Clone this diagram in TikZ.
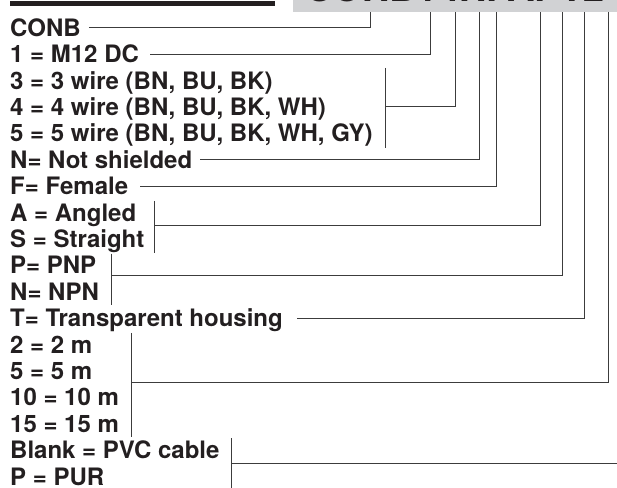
\documentclass[tikz,border=0pt]{standalone}
\usepackage{fontspec}
\setmainfont{TeX Gyre Heros}
\usetikzlibrary{positioning,calc}
\definecolor{ink}{HTML}{231F20}
\definecolor{wire}{HTML}{3C3C3C}
\definecolor{band}{HTML}{D1D2D4}

\begin{document}
\begin{tikzpicture}[
  x=1pt,y=1pt,
  item/.style={font=\bfseries\fontsize{24}{26}\selectfont,text=ink,inner sep=0pt,
               text height=17pt,text depth=0pt,anchor=north west},
  lead/.style={draw=wire,line width=0.9pt},
  node distance=9pt
]
\useasboundingbox (0,0) rectangle (617,-487);
% header band
\fill[ink] (10,-1.5) rectangle (275,-6.5);
\fill[band] (293,0) rectangle (617,-12);
\begin{scope}
  \clip (293,0) rectangle (617,-12);
  \node[anchor=base west,inner sep=0pt,text=ink,font=\bfseries\fontsize{38}{38}\selectfont] (code) at (305,-2) {CONB14NFAPT2};
\end{scope}

% code positions under the band
\coordinate (kConb) at (370,-12);
\coordinate (kDc) at (430,-12);
\coordinate (kWire) at (455,-12);
\coordinate (kShield) at (479,-12);
\coordinate (kFem) at (496,-12);
\coordinate (kAng) at (540,-12);
\coordinate (kOut) at (562,-12);
\coordinate (kTr) at (584,-12);
\coordinate (kLen) at (608,-12);
\coordinate (kCab) at (640,-12);

% option list
\node[item] (conb) at (10,-19) {CONB};
\node[item,below=of conb.south west,anchor=north west] (dc) {1 = M12 DC};
\node[item,below=of dc.south west,anchor=north west] (w3) {3 = 3 wire (BN, BU, BK)};
\node[item,below=of w3.south west,anchor=north west] (w4) {4 = 4 wire (BN, BU, BK, WH)};
\node[item,below=of w4.south west,anchor=north west] (w5) {5 = 5 wire (BN, BU, BK, WH, GY)};
\node[item,below=of w5.south west,anchor=north west] (shield) {N= Not shielded};
\node[item,below=of shield.south west,anchor=north west] (female) {F= Female};
\node[item,below=of female.south west,anchor=north west] (angled) {A = Angled};
\node[item,below=of angled.south west,anchor=north west] (straight) {S = Straight};
\node[item,below=of straight.south west,anchor=north west] (pnp) {P= PNP};
\node[item,below=of pnp.south west,anchor=north west] (npn) {N= NPN};
\node[item,below=of npn.south west,anchor=north west] (clear) {T= Transparent housing};
\node[item,below=of clear.south west,anchor=north west] (m2) {2 = 2 m};
\node[item,below=of m2.south west,anchor=north west] (m5) {5 = 5 m};
\node[item,below=of m5.south west,anchor=north west] (m10) {10 = 10 m};
\node[item,below=of m10.south west,anchor=north west] (m15) {15 = 15 m};
\node[item,below=of m15.south west,anchor=north west] (pvc) {Blank = PVC cable};
\node[item,below=of pvc.south west,anchor=north west] (pur) {P = PUR};

% leaders
\draw[lead] ([xshift=8pt]conb.east) -| (kConb);
\draw[lead] ([xshift=11pt]dc.east) -| (kDc);
\coordinate (bWire) at ([xshift=13pt]w5.east);
\draw[lead] ($(bWire |- w3.north)+(0,4)$) -- ($(bWire |- w5.south)+(0,-6)$);
\draw[lead] (bWire |- w4.east) -| (kWire);
\draw[lead] ([xshift=8pt]shield.east) -| (kShield);
\draw[lead] ([xshift=12pt]female.east) -| (kFem);
\coordinate (bAng) at ([xshift=10pt]straight.east);
\draw[lead] ($(bAng |- angled.north)+(0,3)$) -- ($(bAng |- straight.south)+(0,-5)$);
\coordinate (mAng) at ($(angled.south)!.5!(straight.north)$);
\draw[lead] (bAng |- mAng) -| (kAng);
\coordinate (bOut) at ([xshift=12pt]npn.east);
\draw[lead] ($(bOut |- pnp.north)+(0,3)$) -- ($(bOut |- npn.south)+(0,-5)$);
\draw[lead] ($(bOut |- pnp.south)+(0,-1)$) -| (kOut);
\draw[lead] ([xshift=14pt]clear.east) -| (kTr);
\coordinate (bLen) at ([xshift=12pt]m15.east);
\draw[lead] ($(bLen |- m2.north)+(0,3)$) -- ($(bLen |- m15.south)+(0,-5)$);
\draw[lead] ($(bLen |- m5.south)+(0,-3)$) -| (kLen);
\coordinate (bCab) at ([xshift=12pt]pvc.east);
\draw[lead] ($(bCab |- pvc.north)+(0,3)$) -- ($(bCab |- pur.south)+(0,-5)$);
\coordinate (mCab) at ($(pvc.south)!.5!(pur.north)$);
\draw[lead] (bCab |- mCab) -| (kCab);
\end{tikzpicture}
\end{document}
